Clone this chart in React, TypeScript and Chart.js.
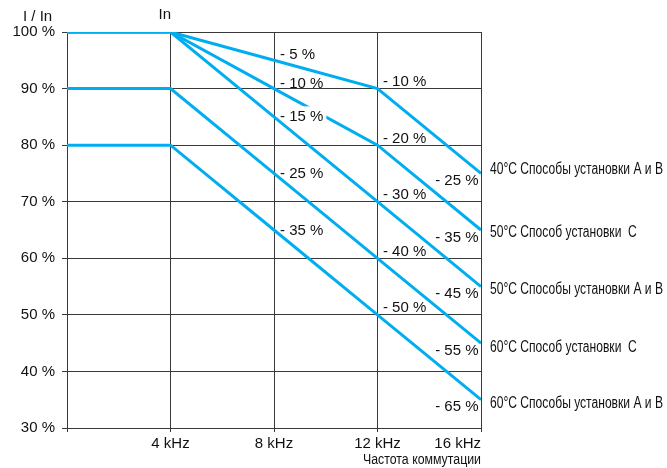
import React, { useEffect, useRef } from "react";
import { Chart, registerables } from "chart.js";

Chart.register(...registerables);

// ---- data ----
const frequenciesKHz = [0, 4, 8, 12, 16];
const xTickLabels = ["", "4 kHz", "8 kHz", "12 kHz", "16 kHz"];
const yTickValues = [30, 40, 50, 60, 70, 80, 90, 100];

const current40AB = [100, 100, 95, 90, 75];
const current50C = [100, 100, 90, 80, 65];
const current50AB = [100, 100, 85, 70, 55];
const current60C = [90, 90, 75, 60, 45];
const current60AB = [80, 80, 65, 50, 35];

const seriesNames = [
  "40°C Способы установки А и В",
  "50°C Способ установки  С",
  "50°C Способы установки А и В",
  "60°C Способ установки  С",
  "60°C Способы установки А и В",
];

const yAxisTitle = "I / In";
const ratedLabel = "In";
const xAxisTitle = "Частота коммутации";

const allSeries = [current40AB, current50C, current50AB, current60C, current60AB];

// ---- style ----
const LINE_COLOR = "#00AEEF";
const TEXT_COLOR = "#111111";
const GRID_COLOR = "#3a3a3a";
const FONT = '"Liberation Sans", Arial, sans-serif';
const NARROW = '"Liberation Sans Narrow", "Liberation Sans", Arial, sans-serif';
const rightLabelOffsets = [-4, 3, 3, 4, 4];
const BOXED = { series: 2, point: 2 };

function deltaLabel(chart: any, si: number, i: number) {
  const xs = chart.scales.x;
  const ys = chart.scales.y;
  const vals = allSeries[si];
  const px = xs.getPixelForValue(frequenciesKHz[i]);
  const py = ys.getPixelForValue(vals[i]);
  const text = `- ${100 - vals[i]} %`;
  let x = px;
  let y = py;
  let align: CanvasTextAlign = "left";
  if (i === 2) {
    x = px + 6;
    y = si < 2 ? py - 1 : py + 4.5;
  } else if (i === 3) {
    x = px + 5.4;
    y = py - 2.5;
  } else {
    align = "right";
    x = px - 2.5;
    y = py + 11.5;
  }
  return { x, y, align, text };
}

const annotationPlugin = {
  id: "deratingAnnotations",
  afterDatasetDraw(chart: any, args: any) {
    if (args.index !== 1) return;
    const ctx = chart.ctx;
    const l = deltaLabel(chart, BOXED.series, BOXED.point);
    ctx.save();
    ctx.font = `15px ${FONT}`;
    const w = ctx.measureText(l.text).width;
    ctx.fillStyle = "#ffffff";
    ctx.fillRect(l.x - 1, l.y - 15, w + 4, 15.5);
    ctx.restore();
  },
  afterDatasetsDraw(chart: any) {
    const ctx = chart.ctx;
    const xs = chart.scales.x;
    const ys = chart.scales.y;
    const area = chart.chartArea;
    ctx.save();
    ctx.fillStyle = TEXT_COLOR;
    ctx.font = `15px ${FONT}`;
    ctx.textBaseline = "alphabetic";

    // percentage-drop labels
    allSeries.forEach((_, si) => {
      [2, 3, 4].forEach((i) => {
        const l = deltaLabel(chart, si, i);
        ctx.textAlign = l.align;
        ctx.fillText(l.text, l.x, l.y);
      });
    });

    // x tick labels
    const last = frequenciesKHz.length - 1;
    frequenciesKHz.forEach((v, i) => {
      const label = xTickLabels[i];
      if (!label) return;
      const px = xs.getPixelForValue(v);
      ctx.textAlign = i === last ? "right" : "center";
      ctx.fillText(label, px, area.bottom + 20);
    });

    // axis titles
    ctx.textAlign = "left";
    ctx.fillText(yAxisTitle, area.left - 44, area.top - 11);
    ctx.fillText(ratedLabel, xs.getPixelForValue(frequenciesKHz[1]) - 12, area.top - 13);

    // series labels at right (condensed)
    ctx.font = `16px ${NARROW}`;
    ctx.textBaseline = "middle";
    ctx.textAlign = "left";
    let longest = 0;
    seriesNames.forEach((n) => {
      longest = Math.max(longest, ctx.measureText(n).width);
    });
    const sx = 173 / longest;
    allSeries.forEach((vals, si) => {
      const py = ys.getPixelForValue(vals[vals.length - 1]);
      ctx.save();
      ctx.translate(area.right + 9, py + rightLabelOffsets[si]);
      ctx.scale(sx, 1);
      ctx.fillText(seriesNames[si], 0, 0);
      ctx.restore();
    });

    // x axis title (condensed)
    ctx.font = `14px ${NARROW}`;
    ctx.textBaseline = "alphabetic";
    ctx.textAlign = "right";
    const tw = ctx.measureText(xAxisTitle).width;
    ctx.save();
    ctx.translate(area.right, area.bottom + 36);
    ctx.scale(118 / tw, 1);
    ctx.fillText(xAxisTitle, 0, 0);
    ctx.restore();

    ctx.restore();
  },
};

export default function App() {
  const canvasRef = useRef<HTMLCanvasElement | null>(null);

  useEffect(() => {
    const canvas = canvasRef.current;
    if (!canvas) return;
    const chart = new Chart(canvas, {
      type: "line",
      data: {
        datasets: allSeries.map((vals, i) => ({
          label: seriesNames[i],
          data: vals.map((v, j) => ({ x: frequenciesKHz[j], y: v })),
          borderColor: LINE_COLOR,
          backgroundColor: LINE_COLOR,
          borderWidth: 3,
          pointRadius: 0,
          pointHoverRadius: 0,
          tension: 0,
          fill: false,
          order: allSeries.length - i,
        })),
      },
      options: {
        responsive: false,
        animation: false,
        events: [],
        layout: { padding: { top: 32, right: 186, left: 0, bottom: 0 } },
        plugins: {
          legend: { display: false },
          tooltip: { enabled: false },
        },
        scales: {
          x: {
            type: "linear",
            min: frequenciesKHz[0],
            max: frequenciesKHz[frequenciesKHz.length - 1],
            afterBuildTicks: (s: any) => {
              s.ticks = frequenciesKHz.map((v) => ({ value: v }));
            },
            ticks: { display: false },
            grid: { color: GRID_COLOR, lineWidth: 1, tickLength: 4, drawTicks: true },
            border: { color: GRID_COLOR, width: 1 },
            afterFit: (s: any) => {
              s.height = 40;
            },
          },
          y: {
            type: "linear",
            min: yTickValues[0],
            max: yTickValues[yTickValues.length - 1],
            afterBuildTicks: (s: any) => {
              s.ticks = yTickValues.map((v) => ({ value: v }));
            },
            ticks: {
              callback: (v: any) => `${v} %`,
              font: { family: FONT, size: 15 },
              color: TEXT_COLOR,
              padding: 7,
            },
            grid: { color: GRID_COLOR, lineWidth: 1, tickLength: 5, drawTicks: true },
            border: { color: GRID_COLOR, width: 1 },
            afterFit: (s: any) => {
              s.width = 67;
            },
          },
        },
      },
      plugins: [annotationPlugin],
    });
    return () => chart.destroy();
  }, []);

  return (
    <div style={{ position: "fixed", left: 0, top: 0, width: 667, height: 468, background: "#fff" }}>
      <canvas ref={canvasRef} width={667} height={468} />
    </div>
  );
}
